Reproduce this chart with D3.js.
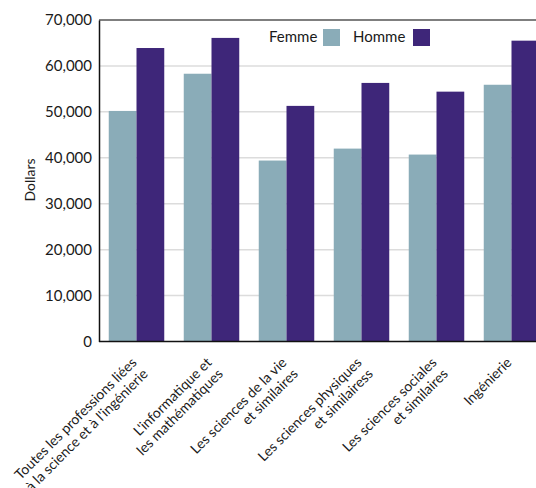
<!DOCTYPE html>
<html>
<head>
<meta charset="utf-8">
<script src="https://cdn.jsdelivr.net/npm/d3@7"></script>
<style>
  body { margin: 0; background: #fff; }
  svg { display: block; font-family: Lato, "Open Sans", sans-serif; }
</style>
</head>
<body>
<svg id="chart" width="536" height="488"></svg>
<script>
// categories (each label split on two lines like the original)
const categories = ["toutes", "info", "vie", "physiques", "sociales", "ingenierie"];
const categoryLabels = [
  ["Toutes les professions liées", "à la science et à l'ingénierie"],
  ["L'informatique et", "les mathématiques"],
  ["Les sciences de la vie", "et similaires"],
  ["Les sciences physiques", "et similairess"],
  ["Les sciences sociales", "et similaires"],
  ["Ingénierie"]
];
const series = ["Femme", "Homme"];
const femme = [50200, 58300, 39400, 42000, 40700, 55900];
const homme = [63900, 66100, 51300, 56300, 54400, 65500];
const yTicks = [0, 10000, 20000, 30000, 40000, 50000, 60000, 70000];

const colors = { Femme: "#8aacb8", Homme: "#3e2679" };

const svg = d3.select("#chart");
const margin = { top: 20, left: 99 };
const width = 450, height = 321.5;

const x = d3.scaleBand()
  .domain(categories)
  .range([margin.left, margin.left + width])
  .paddingInner(0.26)
  .paddingOuter(0.13);

const xSub = d3.scaleBand()
  .domain(series)
  .range([0, x.bandwidth()]);

const y = d3.scaleLinear()
  .domain([0, 70000])
  .range([margin.top + height, margin.top]);

// gridlines
svg.append("g")
  .selectAll("line")
  .data(yTicks.filter(d => d > 0 && d < 70000))
  .join("line")
  .attr("x1", margin.left)
  .attr("x2", margin.left + width)
  .attr("y1", d => y(d))
  .attr("y2", d => y(d))
  .attr("stroke", "#dcdcdc")
  .attr("stroke-width", 1.5);

// bars
const rows = categories.map((c, i) => ({ cat: c, Femme: femme[i], Homme: homme[i] }));
svg.append("g")
  .selectAll("g")
  .data(rows)
  .join("g")
  .attr("transform", d => "translate(" + x(d.cat) + ",0)")
  .selectAll("rect")
  .data(d => series.map(s => ({ key: s, value: d[s] })))
  .join("rect")
  .attr("x", d => xSub(d.key))
  .attr("width", xSub.bandwidth())
  .attr("y", d => y(d.value))
  .attr("height", d => y(0) - y(d.value))
  .attr("fill", d => colors[d.key]);

// top border
svg.append("line")
  .attr("x1", margin.left).attr("x2", margin.left + width)
  .attr("y1", y(70000)).attr("y2", y(70000))
  .attr("stroke", "#7f7f7f").attr("stroke-width", 2);

// y axis
const yAxis = svg.append("g")
  .attr("transform", "translate(" + margin.left + ",0)")
  .call(d3.axisLeft(y).tickValues(yTicks).tickSize(0).tickPadding(7).tickFormat(d3.format(",")));
yAxis.select(".domain").attr("stroke", "#111").attr("stroke-width", 1.5);
yAxis.selectAll("text").attr("font-size", 15).attr("fill", "#1a1a1a")
  .attr("font-family", "Lato, sans-serif");

// x axis line
svg.append("line")
  .attr("x1", margin.left).attr("x2", margin.left + width)
  .attr("y1", y(0)).attr("y2", y(0))
  .attr("stroke", "#111").attr("stroke-width", 1.5);

// x labels, rotated
const lab = svg.append("g")
  .selectAll("text")
  .data(categories)
  .join("text")
  .attr("transform", d => "translate(" + (x(d) + x.bandwidth() / 2 + 1) + "," + (y(0) + 22) + ") rotate(-45)")
  .attr("text-anchor", "end")
  .attr("font-size", 14)
  .attr("fill", "#1a1a1a");
lab.selectAll("tspan")
  .data((d, i) => categoryLabels[i])
  .join("tspan")
  .attr("x", 0)
  .attr("dy", (d, i) => i === 0 ? 0 : 16)
  .text(d => d);

// y title
svg.append("text")
  .attr("transform", "translate(35,180) rotate(-90)")
  .attr("text-anchor", "middle")
  .attr("font-size", 14)
  .attr("fill", "#1a1a1a")
  .text("Dollars");

// legend
const legendX = [269, 353];
const legend = svg.append("g")
  .selectAll("g")
  .data(series)
  .join("g")
  .attr("transform", (d, i) => "translate(" + legendX[i] + ",0)");
legend.append("text")
  .attr("x", 0).attr("y", 42)
  .attr("font-size", 15)
  .attr("fill", "#1a1a1a")
  .text(d => d);
legend.append("rect")
  .attr("x", (d, i) => i === 0 ? 54 : 60)
  .attr("y", 29)
  .attr("width", 17).attr("height", 17)
  .attr("fill", d => colors[d]);
</script>
</body>
</html>
